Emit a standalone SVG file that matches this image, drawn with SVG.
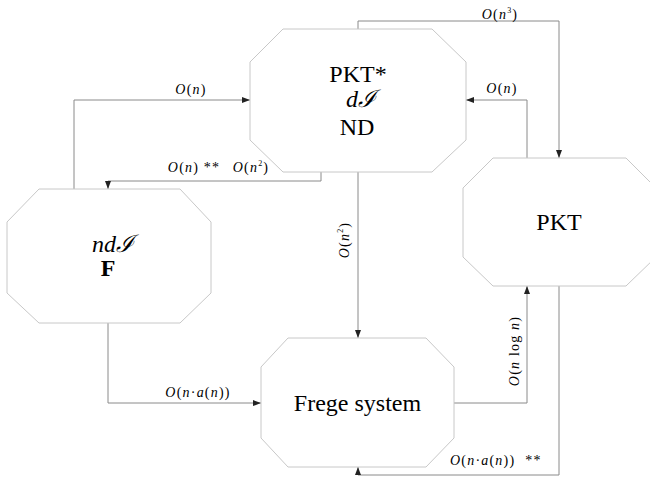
<svg xmlns="http://www.w3.org/2000/svg" width="650" height="479" viewBox="0 0 650 479">
<style>
.node{fill:#fff;stroke:#c8c8c8;stroke-width:1}
.c{fill:none;stroke:#8a8a8a;stroke-width:1}
.big{font-family:"Liberation Serif",serif;font-size:24px;fill:#000;text-anchor:middle}
.m{font-family:"Liberation Serif",serif;font-size:14px;fill:#000;text-anchor:middle;letter-spacing:1.2px}
.st{text-anchor:start}
.i{font-style:italic}
.s{font-family:"DejaVu Serif",serif;font-style:italic}
</style>
<defs>
<marker id="a" markerWidth="8" markerHeight="6" refX="8" refY="3" orient="auto" markerUnits="userSpaceOnUse">
<path d="M0,0 L8,3 L0,6 z" fill="#222"/>
</marker>
</defs>
<rect width="650" height="479" fill="#fff"/>
<g id="connectors">
<path class="c" d="M74,189 V100 H250" marker-end="url(#a)"/>
<path class="c" d="M321,172 V181 H108 V189" marker-end="url(#a)"/>
<path class="c" d="M358,29 V21 H559 V158" marker-end="url(#a)"/>
<path class="c" d="M527,158 V100 H466" marker-end="url(#a)"/>
<path class="c" d="M358,172 V338" marker-end="url(#a)"/>
<path class="c" d="M454,403 H527 V286" marker-end="url(#a)"/>
<path class="c" d="M559,286 V475 H358 V467" marker-end="url(#a)"/>
<path class="c" d="M108,323 V403 H261" marker-end="url(#a)"/>
</g>
<g id="pktstar">
<polygon class="node" points="283,29 432,29 466,62 466,140 432,172 283,172 250,140 250,62"/>
<text class="big" x="358" y="82">PKT*</text>
<text class="big" x="361" y="107"><tspan class="i">d</tspan><tspan class="s">ℐ</tspan></text>
<text class="big" x="357" y="135">ND</text>
</g>
<g id="ndf">
<polygon class="node" points="39,189 180,189 211,222 211,293 180,323 39,323 7,293 7,222"/>
<text class="big" x="113" y="252"><tspan class="i">nd</tspan><tspan class="s">ℐ</tspan></text>
<text class="big" x="108" y="276" font-weight="bold">F</text>
</g>
<g id="frege">
<polygon class="node" points="288,338 426,338 454,367 454,438 426,467 288,467 261,438 261,367"/>
<text class="big" x="357.5" y="411">Frege system</text>
</g>
<g id="pkt">
<polygon class="node" points="493,158 626,158 656,188 656,257 626,286 493,286 463,257 463,188"/>
<text class="big" x="559" y="230">PKT</text>
</g>
<g id="labels">
<text class="m" x="191" y="94"><tspan class="i">O</tspan>(<tspan class="i">n</tspan>)</text>
<text class="m" x="194" y="172"><tspan class="i">O</tspan>(<tspan class="i">n</tspan>) **</text>
<text class="m" x="251" y="172"><tspan class="i">O</tspan>(<tspan class="i">n</tspan><tspan font-size="8" dy="-6">2</tspan><tspan dy="6">)</tspan></text>
<text class="m" x="500" y="19"><tspan class="i">O</tspan>(<tspan class="i">n</tspan><tspan font-size="8" dy="-6">3</tspan><tspan dy="6">)</tspan></text>
<text class="m" x="502" y="93"><tspan class="i">O</tspan>(<tspan class="i">n</tspan>)</text>
<text class="m" transform="translate(349,240) rotate(-90)"><tspan class="i">O</tspan>(<tspan class="i">n</tspan><tspan font-size="8" dy="-6">2</tspan><tspan dy="6">)</tspan></text>
<text class="m" transform="translate(519,351) rotate(-90)"><tspan class="i">O</tspan>(<tspan class="i">n</tspan> log <tspan class="i">n</tspan>)</text>
<text class="m" x="198" y="397"><tspan class="i">O</tspan>(<tspan class="i">n</tspan>·<tspan class="i">a</tspan>(<tspan class="i">n</tspan>))</text>
<text class="m st" x="450" y="465"><tspan class="i">O</tspan>(<tspan class="i">n</tspan>·<tspan class="i">a</tspan>(<tspan class="i">n</tspan>))<tspan dx="10">**</tspan></text>
</g>
</svg>
